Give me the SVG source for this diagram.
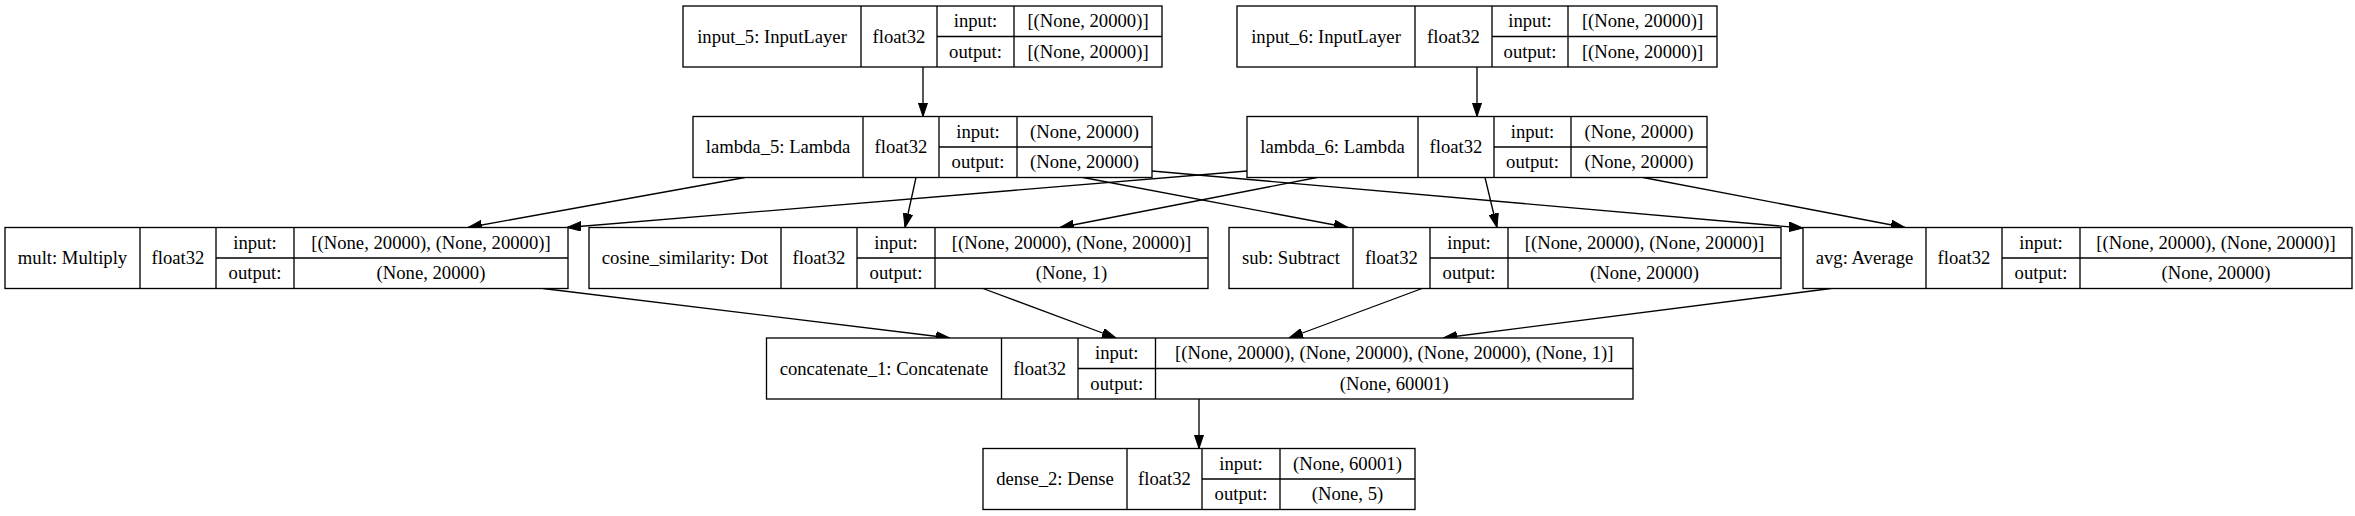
<svg xmlns="http://www.w3.org/2000/svg" width="2355" height="516" viewBox="0 0 2355 516">
<style>
.box{fill:#fff;stroke:#000;stroke-width:1.33}
.dv{stroke:#000;stroke-width:1.33}
.t text{font-family:'Liberation Serif','DejaVu Serif',serif;font-size:18.67px;fill:#000;text-anchor:middle}
.edge{stroke:#000;stroke-width:1.33;fill:none;marker-end:url(#arr)}
</style>
<defs>
<marker id="arr" markerUnits="userSpaceOnUse" markerWidth="14" markerHeight="10" viewBox="0 0 14 10" refX="14" refY="5" orient="auto">
<path d="M0,0.3 L14,5 L0,9.7 Z" fill="#000" stroke="#000" stroke-width="1"/>
</marker>
</defs>
<rect width="2355" height="516" fill="#fff"/>
<g id="connectors">
<line class="edge" x1="923" y1="67" x2="923" y2="116.5"/>
<line class="edge" x1="1477" y1="67" x2="1477" y2="116.5"/>
<line class="edge" x1="745" y1="177.5" x2="468" y2="227.5"/>
<line class="edge" x1="1247" y1="171" x2="567" y2="227.5"/>
<line class="edge" x1="916" y1="177.5" x2="905" y2="227.5"/>
<line class="edge" x1="1317" y1="177.5" x2="1060" y2="227.5"/>
<line class="edge" x1="1083" y1="177.5" x2="1348" y2="227.5"/>
<line class="edge" x1="1485" y1="177.5" x2="1497" y2="227.5"/>
<line class="edge" x1="1152" y1="171" x2="1803" y2="228"/>
<line class="edge" x1="1643" y1="177.5" x2="1905" y2="227.5"/>
<line class="edge" x1="543" y1="288.5" x2="950" y2="338"/>
<line class="edge" x1="983" y1="288.5" x2="1116" y2="338"/>
<line class="edge" x1="1422" y1="288.5" x2="1289" y2="338"/>
<line class="edge" x1="1831" y1="288.5" x2="1443" y2="338"/>
<line class="edge" x1="1199" y1="399" x2="1199" y2="448.5"/>
</g>
<g class="t" font-family="Liberation Serif, DejaVu Serif, serif" font-size="18.67" text-anchor="middle">
<g id="input_5">
<rect class="box" x="683" y="6" width="479" height="61"/>
<line class="dv" x1="861" y1="6" x2="861" y2="67"/><line class="dv" x1="937" y1="6" x2="937" y2="67"/><line class="dv" x1="1014" y1="6" x2="1014" y2="67"/><line class="dv" x1="937" y1="36.5" x2="1162" y2="36.5"/>
<text x="772" y="42.5">input_5: InputLayer</text><text x="899" y="42.5">float32</text>
<text x="975.5" y="27.25">input:</text><text x="975.5" y="57.75">output:</text>
<text x="1088" y="27.25">[(None, 20000)]</text><text x="1088" y="57.75">[(None, 20000)]</text>
</g>
<g id="input_6">
<rect class="box" x="1237" y="6" width="480" height="61"/>
<line class="dv" x1="1415" y1="6" x2="1415" y2="67"/><line class="dv" x1="1492" y1="6" x2="1492" y2="67"/><line class="dv" x1="1568" y1="6" x2="1568" y2="67"/><line class="dv" x1="1492" y1="36.5" x2="1717" y2="36.5"/>
<text x="1326" y="42.5">input_6: InputLayer</text><text x="1453.5" y="42.5">float32</text>
<text x="1530" y="27.25">input:</text><text x="1530" y="57.75">output:</text>
<text x="1642.5" y="27.25">[(None, 20000)]</text><text x="1642.5" y="57.75">[(None, 20000)]</text>
</g>
<g id="lambda_5">
<rect class="box" x="693" y="116.5" width="459" height="61"/>
<line class="dv" x1="863" y1="116.5" x2="863" y2="177.5"/><line class="dv" x1="939" y1="116.5" x2="939" y2="177.5"/><line class="dv" x1="1017" y1="116.5" x2="1017" y2="177.5"/><line class="dv" x1="939" y1="147" x2="1152" y2="147"/>
<text x="778" y="153">lambda_5: Lambda</text><text x="901" y="153">float32</text>
<text x="978" y="137.75">input:</text><text x="978" y="168.25">output:</text>
<text x="1084.5" y="137.75">(None, 20000)</text><text x="1084.5" y="168.25">(None, 20000)</text>
</g>
<g id="lambda_6">
<rect class="box" x="1247" y="116.5" width="460" height="61"/>
<line class="dv" x1="1418" y1="116.5" x2="1418" y2="177.5"/><line class="dv" x1="1494" y1="116.5" x2="1494" y2="177.5"/><line class="dv" x1="1571" y1="116.5" x2="1571" y2="177.5"/><line class="dv" x1="1494" y1="147" x2="1707" y2="147"/>
<text x="1332.5" y="153">lambda_6: Lambda</text><text x="1456" y="153">float32</text>
<text x="1532.5" y="137.75">input:</text><text x="1532.5" y="168.25">output:</text>
<text x="1639" y="137.75">(None, 20000)</text><text x="1639" y="168.25">(None, 20000)</text>
</g>
<g id="mult">
<rect class="box" x="5" y="227.5" width="563" height="61"/>
<line class="dv" x1="140" y1="227.5" x2="140" y2="288.5"/><line class="dv" x1="216" y1="227.5" x2="216" y2="288.5"/><line class="dv" x1="294" y1="227.5" x2="294" y2="288.5"/><line class="dv" x1="216" y1="258" x2="568" y2="258"/>
<text x="72.5" y="264">mult: Multiply</text><text x="178" y="264">float32</text>
<text x="255" y="248.75">input:</text><text x="255" y="279.25">output:</text>
<text x="431" y="248.75">[(None, 20000), (None, 20000)]</text><text x="431" y="279.25">(None, 20000)</text>
</g>
<g id="cosine_similarity">
<rect class="box" x="589" y="227.5" width="619" height="61"/>
<line class="dv" x1="781" y1="227.5" x2="781" y2="288.5"/><line class="dv" x1="857" y1="227.5" x2="857" y2="288.5"/><line class="dv" x1="935" y1="227.5" x2="935" y2="288.5"/><line class="dv" x1="857" y1="258" x2="1208" y2="258"/>
<text x="685" y="264">cosine_similarity: Dot</text><text x="819" y="264">float32</text>
<text x="896" y="248.75">input:</text><text x="896" y="279.25">output:</text>
<text x="1071.5" y="248.75">[(None, 20000), (None, 20000)]</text><text x="1071.5" y="279.25">(None, 1)</text>
</g>
<g id="sub">
<rect class="box" x="1229" y="227.5" width="552" height="61"/>
<line class="dv" x1="1353" y1="227.5" x2="1353" y2="288.5"/><line class="dv" x1="1430" y1="227.5" x2="1430" y2="288.5"/><line class="dv" x1="1508" y1="227.5" x2="1508" y2="288.5"/><line class="dv" x1="1430" y1="258" x2="1781" y2="258"/>
<text x="1291" y="264">sub: Subtract</text><text x="1391.5" y="264">float32</text>
<text x="1469" y="248.75">input:</text><text x="1469" y="279.25">output:</text>
<text x="1644.5" y="248.75">[(None, 20000), (None, 20000)]</text><text x="1644.5" y="279.25">(None, 20000)</text>
</g>
<g id="avg">
<rect class="box" x="1803" y="227.5" width="549" height="61"/>
<line class="dv" x1="1926" y1="227.5" x2="1926" y2="288.5"/><line class="dv" x1="2002" y1="227.5" x2="2002" y2="288.5"/><line class="dv" x1="2080" y1="227.5" x2="2080" y2="288.5"/><line class="dv" x1="2002" y1="258" x2="2352" y2="258"/>
<text x="1864.5" y="264">avg: Average</text><text x="1964" y="264">float32</text>
<text x="2041" y="248.75">input:</text><text x="2041" y="279.25">output:</text>
<text x="2216" y="248.75">[(None, 20000), (None, 20000)]</text><text x="2216" y="279.25">(None, 20000)</text>
</g>
<g id="concatenate_1">
<rect class="box" x="766.5" y="338" width="866.5" height="61"/>
<line class="dv" x1="1001.5" y1="338" x2="1001.5" y2="399"/><line class="dv" x1="1078" y1="338" x2="1078" y2="399"/><line class="dv" x1="1155.5" y1="338" x2="1155.5" y2="399"/><line class="dv" x1="1078" y1="368.5" x2="1633" y2="368.5"/>
<text x="884" y="374.5">concatenate_1: Concatenate</text><text x="1039.75" y="374.5">float32</text>
<text x="1116.75" y="359.25">input:</text><text x="1116.75" y="389.75">output:</text>
<text x="1394.25" y="359.25">[(None, 20000), (None, 20000), (None, 20000), (None, 1)]</text><text x="1394.25" y="389.75">(None, 60001)</text>
</g>
<g id="dense_2">
<rect class="box" x="983" y="448.5" width="432" height="61"/>
<line class="dv" x1="1127" y1="448.5" x2="1127" y2="509.5"/><line class="dv" x1="1202" y1="448.5" x2="1202" y2="509.5"/><line class="dv" x1="1280" y1="448.5" x2="1280" y2="509.5"/><line class="dv" x1="1202" y1="479" x2="1415" y2="479"/>
<text x="1055" y="485">dense_2: Dense</text><text x="1164.5" y="485">float32</text>
<text x="1241" y="469.75">input:</text><text x="1241" y="500.25">output:</text>
<text x="1347.5" y="469.75">(None, 60001)</text><text x="1347.5" y="500.25">(None, 5)</text>
</g>
</g>
</svg>
